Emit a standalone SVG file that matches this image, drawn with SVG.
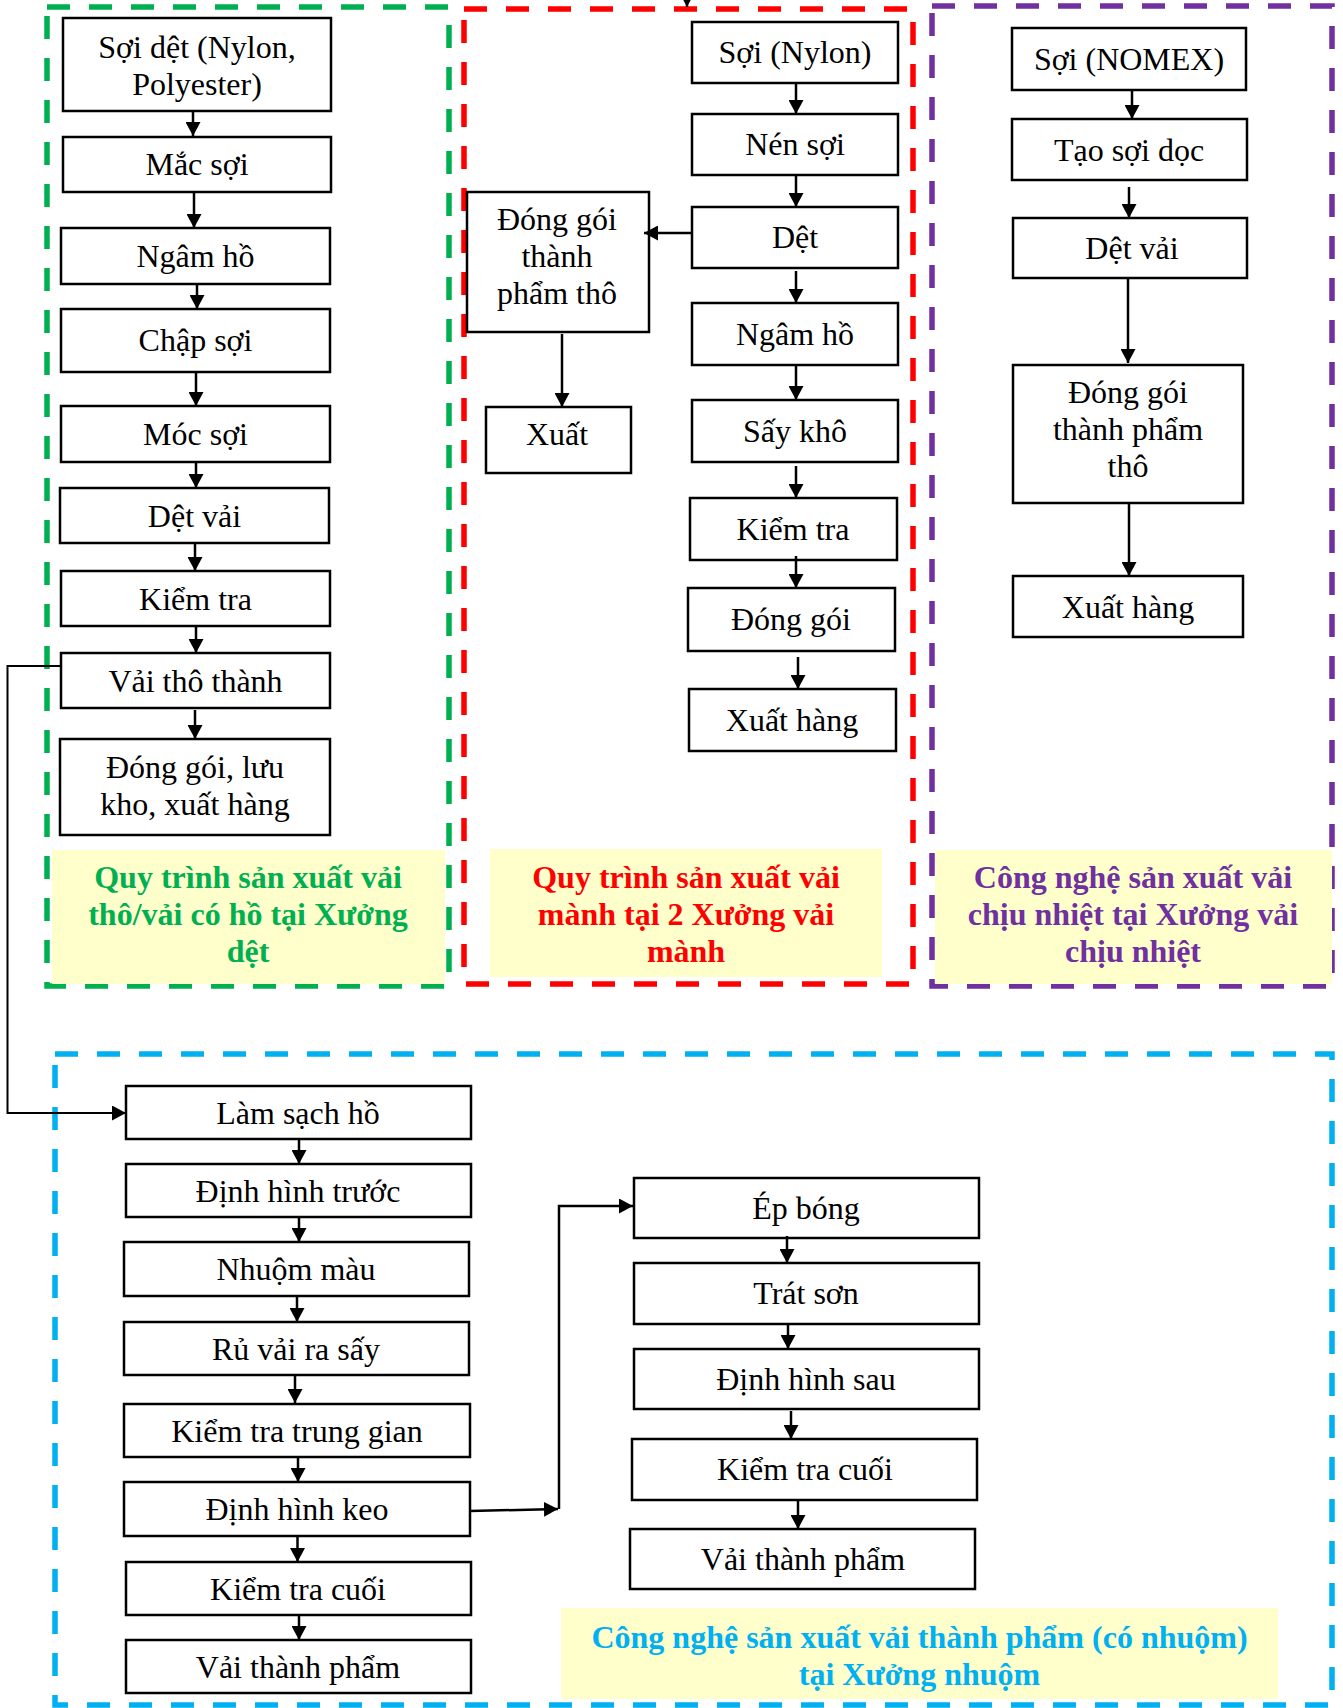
<svg xmlns="http://www.w3.org/2000/svg" width="1343" height="1708" viewBox="0 0 1343 1708">
<style>
.bx{fill:#fff;stroke:#000;stroke-width:2.5}
.t{font-family:"Liberation Serif","Times New Roman",serif;font-size:32px;fill:#000;text-anchor:middle}
.lb{font-family:"Liberation Serif","Times New Roman",serif;font-size:32px;font-weight:bold;text-anchor:middle}
.frame{fill:none;stroke-width:5.5;stroke-dasharray:23 19}
.lbg{fill:#FFFFCC}
.c{fill:none;stroke:#000;stroke-width:2.5}
.cf{fill:none;stroke:#000;stroke-width:2}
</style>
<defs>
<marker id="ah" markerUnits="userSpaceOnUse" markerWidth="15" markerHeight="15" refX="14" refY="7.5" orient="auto">
<path d="M0,0 L14,7.5 L0,15 z" fill="#000"/>
</marker>
</defs>

<g id="frames">
<rect class="frame" x="47" y="7" width="402" height="979" stroke="#00B050"/>
<rect class="frame" x="464" y="9" width="449" height="975" stroke="#FF0000"/>
<rect class="frame" x="932" y="6" width="400" height="980" stroke="#7030A0"/>
<rect class="frame" x="55" y="1054" width="1277" height="651" stroke="#00B0F0"/>
</g>

<g id="label-green">
<rect class="lbg" x="52" y="850" width="393" height="134"/>
<text class="lb" fill="#00B050"><tspan x="248" y="888">Quy trình sản xuất vải</tspan><tspan x="248" y="925">thô/vải có hồ tại Xưởng</tspan><tspan x="248" y="962">dệt</tspan></text>
</g>
<g id="label-red">
<rect class="lbg" x="490" y="849" width="392" height="128"/>
<text class="lb" fill="#FF0000"><tspan x="686" y="888">Quy trình sản xuất vải</tspan><tspan x="686" y="925">mành tại 2 Xưởng vải</tspan><tspan x="686" y="962">mành</tspan></text>
</g>
<g id="label-purple">
<rect class="lbg" x="935" y="850" width="397" height="134"/>
<text class="lb" fill="#7030A0"><tspan x="1133" y="888">Công nghệ sản xuất vải</tspan><tspan x="1133" y="925">chịu nhiệt tại Xưởng vải</tspan><tspan x="1133" y="962">chịu nhiệt</tspan></text>
</g>
<g id="label-blue">
<rect class="lbg" x="561" y="1608" width="717" height="91"/>
<text class="lb" fill="#00B0F0"><tspan x="919.5" y="1648">Công nghệ sản xuất vải thành phẩm (có nhuộm)</tspan><tspan x="919.5" y="1685">tại Xưởng nhuộm</tspan></text>
</g>

<!-- green column -->
<g id="g1"><rect class="bx" x="63" y="18" width="268" height="93"/><text class="t"><tspan x="197" y="58">Sợi dệt (Nylon,</tspan><tspan x="197" y="95">Polyester)</tspan></text></g>
<g id="g2"><rect class="bx" x="63" y="137" width="268" height="55"/><text class="t" x="197" y="175">Mắc sợi</text></g>
<g id="g3"><rect class="bx" x="61" y="228" width="269" height="56"/><text class="t" x="195.5" y="267">Ngâm hồ</text></g>
<g id="g4"><rect class="bx" x="61" y="309" width="269" height="63"/><text class="t" x="195.5" y="351">Chập sợi</text></g>
<g id="g5"><rect class="bx" x="61" y="406" width="269" height="56"/><text class="t" x="195.5" y="445">Móc sợi</text></g>
<g id="g6"><rect class="bx" x="60" y="488" width="269" height="55"/><text class="t" x="194.5" y="527">Dệt vải</text></g>
<g id="g7"><rect class="bx" x="61" y="571" width="269" height="55"/><text class="t" x="195.5" y="610">Kiểm tra</text></g>
<g id="g8"><rect class="bx" x="61" y="653" width="269" height="55"/><text class="t" x="195.5" y="692">Vải thô thành</text></g>
<g id="g9"><rect class="bx" x="60" y="739" width="270" height="96"/><text class="t"><tspan x="195" y="778">Đóng gói, lưu</tspan><tspan x="195" y="815">kho, xuất hàng</tspan></text></g>

<!-- red column -->
<g id="r1"><rect class="bx" x="692" y="22" width="206" height="61"/><text class="t" x="795" y="63">Sợi (Nylon)</text></g>
<g id="r2"><rect class="bx" x="692" y="114" width="206" height="61"/><text class="t" x="795" y="155">Nén sợi</text></g>
<g id="r3"><rect class="bx" x="692" y="207" width="206" height="61"/><text class="t" x="795" y="248">Dệt</text></g>
<g id="r4"><rect class="bx" x="692" y="303" width="206" height="62"/><text class="t" x="795" y="345">Ngâm hồ</text></g>
<g id="r5"><rect class="bx" x="692" y="400" width="206" height="62"/><text class="t" x="795" y="442">Sấy khô</text></g>
<g id="r6"><rect class="bx" x="690" y="498" width="207" height="62"/><text class="t" x="793" y="540">Kiểm tra</text></g>
<g id="r7"><rect class="bx" x="688" y="588" width="207" height="63"/><text class="t" x="791" y="630">Đóng gói</text></g>
<g id="r8"><rect class="bx" x="689" y="689" width="207" height="62"/><text class="t" x="792" y="731">Xuất hàng</text></g>
<g id="r9"><rect class="bx" x="467" y="192" width="182" height="140"/><text class="t"><tspan x="557" y="230">Đóng gói</tspan><tspan x="557" y="267">thành</tspan><tspan x="557" y="304">phẩm thô</tspan></text></g>
<g id="r10"><rect class="bx" x="486" y="407" width="145" height="66"/><text class="t" x="557" y="445">Xuất</text></g>

<!-- purple column -->
<g id="p1"><rect class="bx" x="1012" y="28" width="234" height="62"/><text class="t" x="1129" y="70">Sợi (NOMEX)</text></g>
<g id="p2"><rect class="bx" x="1012" y="119" width="235" height="61"/><text class="t" x="1129" y="161">Tạo sợi dọc</text></g>
<g id="p3"><rect class="bx" x="1013" y="218" width="234" height="60"/><text class="t" x="1132" y="259">Dệt vải</text></g>
<g id="p4"><rect class="bx" x="1013" y="365" width="230" height="138"/><text class="t"><tspan x="1128" y="403">Đóng gói</tspan><tspan x="1128" y="440">thành phẩm</tspan><tspan x="1128" y="477">thô</tspan></text></g>
<g id="p5"><rect class="bx" x="1013" y="576" width="230" height="61"/><text class="t" x="1128" y="618">Xuất hàng</text></g>

<!-- bottom left column -->
<g id="b1"><rect class="bx" x="126" y="1086" width="345" height="53"/><text class="t" x="298" y="1124">Làm sạch hồ</text></g>
<g id="b2"><rect class="bx" x="126" y="1164" width="345" height="53"/><text class="t" x="298" y="1202">Định hình trước</text></g>
<g id="b3"><rect class="bx" x="124" y="1242" width="345" height="54"/><text class="t" x="296" y="1280">Nhuộm màu</text></g>
<g id="b4"><rect class="bx" x="124" y="1322" width="345" height="53"/><text class="t" x="296" y="1360">Rủ vải ra sấy</text></g>
<g id="b5"><rect class="bx" x="124" y="1404" width="346" height="53"/><text class="t" x="297" y="1442">Kiểm tra trung gian</text></g>
<g id="b6"><rect class="bx" x="124" y="1482" width="346" height="54"/><text class="t" x="297" y="1520">Định hình keo</text></g>
<g id="b7"><rect class="bx" x="126" y="1562" width="345" height="53"/><text class="t" x="298" y="1600">Kiểm tra cuối</text></g>
<g id="b8"><rect class="bx" x="126" y="1640" width="345" height="53"/><text class="t" x="298" y="1678">Vải thành phẩm</text></g>

<!-- bottom right column -->
<g id="b9"><rect class="bx" x="634" y="1178" width="345" height="60"/><text class="t" x="806" y="1219">Ép bóng</text></g>
<g id="b10"><rect class="bx" x="634" y="1263" width="345" height="61"/><text class="t" x="806" y="1304">Trát sơn</text></g>
<g id="b11"><rect class="bx" x="634" y="1349" width="345" height="60"/><text class="t" x="806" y="1390">Định hình sau</text></g>
<g id="b12"><rect class="bx" x="632" y="1439" width="345" height="61"/><text class="t" x="805" y="1480">Kiểm tra cuối</text></g>
<g id="b13"><rect class="bx" x="630" y="1529" width="345" height="60"/><text class="t" x="803" y="1570">Vải thành phẩm</text></g>

<g id="connectors">
<path class="c" d="M193,111 V136" marker-end="url(#ah)"/>
<path class="c" d="M194,192 V228" marker-end="url(#ah)"/>
<path class="c" d="M197,284 V309" marker-end="url(#ah)"/>
<path class="c" d="M196,372 V406" marker-end="url(#ah)"/>
<path class="c" d="M196,462 V488" marker-end="url(#ah)"/>
<path class="c" d="M195,543 V571" marker-end="url(#ah)"/>
<path class="c" d="M196,626 V653" marker-end="url(#ah)"/>
<path class="c" d="M195,710 V739" marker-end="url(#ah)"/>
<path class="cf" d="M61,666 H7.5 V1113 H126" marker-end="url(#ah)"/>

<path class="c" d="M687,0 V7" marker-end="url(#ah)"/>
<path class="c" d="M796,83 V114" marker-end="url(#ah)"/>
<path class="c" d="M796,175 V207" marker-end="url(#ah)"/>
<path class="c" d="M796,271 V303" marker-end="url(#ah)"/>
<path class="c" d="M796,366 V400" marker-end="url(#ah)"/>
<path class="c" d="M796,466 V498" marker-end="url(#ah)"/>
<path class="c" d="M796,556 V588" marker-end="url(#ah)"/>
<path class="c" d="M798,657 V689" marker-end="url(#ah)"/>
<path class="c" d="M692,233 H644" marker-end="url(#ah)"/>
<path class="c" d="M562,334 V407" marker-end="url(#ah)"/>

<path class="c" d="M1132,90 V119" marker-end="url(#ah)"/>
<path class="c" d="M1129,187 V218" marker-end="url(#ah)"/>
<path class="c" d="M1128,278 V363" marker-end="url(#ah)"/>
<path class="c" d="M1129,503 V576" marker-end="url(#ah)"/>

<path class="c" d="M299,1139 V1164" marker-end="url(#ah)"/>
<path class="c" d="M299,1217 V1242" marker-end="url(#ah)"/>
<path class="c" d="M297,1296 V1322" marker-end="url(#ah)"/>
<path class="c" d="M295,1375 V1403" marker-end="url(#ah)"/>
<path class="c" d="M298,1457 V1482" marker-end="url(#ah)"/>
<path class="c" d="M297.5,1536 V1562" marker-end="url(#ah)"/>
<path class="c" d="M299,1615 V1640" marker-end="url(#ah)"/>
<path class="c" d="M470,1511 L558,1509" marker-end="url(#ah)"/>
<path class="c" d="M559,1509 V1206 H633" marker-end="url(#ah)"/>

<path class="c" d="M787,1236 V1263" marker-end="url(#ah)"/>
<path class="c" d="M788,1324 V1349" marker-end="url(#ah)"/>
<path class="c" d="M791,1411 V1439" marker-end="url(#ah)"/>
<path class="c" d="M798,1500 V1529" marker-end="url(#ah)"/>
</g>
</svg>
